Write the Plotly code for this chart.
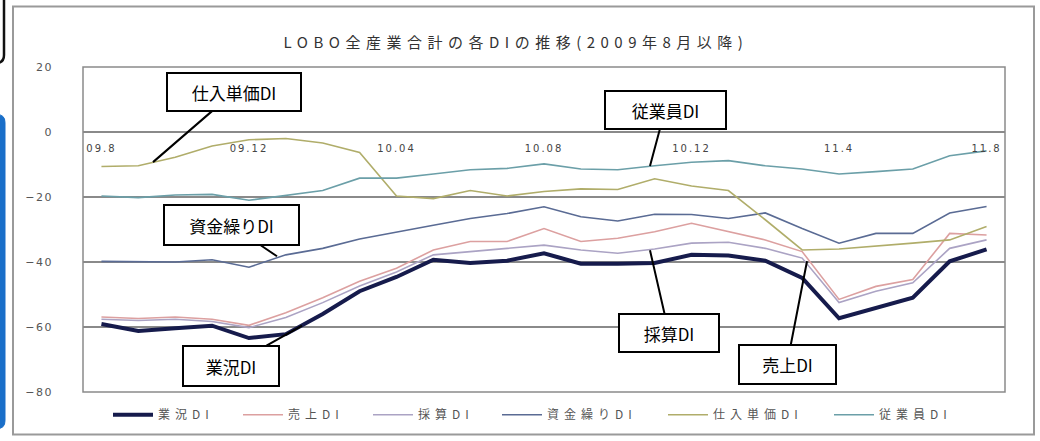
import plotly.graph_objects as go

# Monthly survey points, Aug 2009 - Aug 2011
months = ["09.8", "09.9", "09.10", "09.11", "09.12", "10.01", "10.02", "10.03", "10.04",
          "10.05", "10.06", "10.07", "10.08", "10.09", "10.10", "10.11", "10.12",
          "11.1", "11.2", "11.3", "11.4", "11.5", "11.6", "11.7", "11.8"]
tick_labels = ["09.8", "09.12", "10.04", "10.08", "10.12", "11.4", "11.8"]

gyokyo = [-59.1, -61.2, -60.4, -59.6, -63.4, -62.2, -56.0, -49.0, -44.6, -39.3, -40.3, -39.6, -37.3,
          -40.5, -40.5, -40.3, -37.8, -38.0, -39.6, -44.9, -57.3, -54.1, -51.0, -39.8, -36.1]
uriage = [-56.9, -57.4, -56.9, -57.6, -59.5, -55.6, -51.0, -45.9, -41.9, -36.3, -33.7, -33.7, -29.7,
          -33.7, -32.7, -30.7, -28.1, -30.7, -33.2, -36.8, -51.5, -47.5, -45.4, -31.2, -31.7]
saisan = [-57.6, -58.0, -57.6, -58.3, -60.2, -57.1, -52.5, -47.4, -43.1, -37.8, -36.8, -35.8, -34.8,
          -36.3, -37.3, -36.0, -34.2, -33.9, -35.8, -38.8, -52.5, -49.0, -46.4, -35.8, -33.2]
shikinguri = [-39.8, -40.0, -40.0, -39.3, -41.6, -37.8, -35.8, -32.9, -30.7, -28.7, -26.6, -25.1, -23.0,
              -26.1, -27.4, -25.3, -25.4, -26.6, -24.9, -29.7, -34.2, -31.2, -31.2, -24.9, -22.9]
shiire = [-10.6, -10.4, -7.8, -4.3, -2.4, -2.0, -3.4, -6.3, -19.7, -20.5, -18.0, -19.7, -18.3,
          -17.5, -17.7, -14.4, -16.6, -18.0, -27.0, -36.3, -36.0, -35.2, -34.2, -33.2, -29.1]
jugyoin = [-19.7, -20.2, -19.4, -19.2, -21.0, -19.4, -18.0, -14.2, -14.2, -12.9, -11.6, -11.2, -9.8,
           -11.4, -11.6, -10.4, -9.3, -8.8, -10.4, -11.4, -12.9, -12.2, -11.4, -7.3, -5.8]

# name, values, colour, width, legend block (short names / long names)
series = [
    ("業況DI", gyokyo, "#161b4c", 4, "legend"),
    ("売上DI", uriage, "#dca0a0", 1.6, "legend"),
    ("採算DI", saisan, "#aba3c4", 1.6, "legend"),
    ("資金繰りDI", shikinguri, "#5a6b94", 1.6, "legend2"),
    ("仕入単価DI", shiire, "#b0ad6a", 1.6, "legend2"),
    ("従業員DI", jugyoin, "#6b9fa8", 1.6, "legend2"),
]

W, H = 1040, 441
ML, MR, MT, MB = 83, 35, 67, 46
PW, PH = W - ML - MR, H - MT - MB


def px_x(px):
    return (px - ML) / PW


def px_y(py):
    return (H - MB - py) / PH


def rounded_rect(x0, y0, x1, y1, r):
    # rounded rectangle path in paper units from pixel corners
    rx, ry = r / PW, r / PH
    a0, a1 = px_x(x0), px_x(x1)
    b0, b1 = px_y(y1), px_y(y0)
    return (f"M{a0 + rx},{b0} L{a1 - rx},{b0} Q{a1},{b0} {a1},{b0 + ry} "
            f"L{a1},{b1 - ry} Q{a1},{b1} {a1 - rx},{b1} L{a0 + rx},{b1} "
            f"Q{a0},{b1} {a0},{b1 - ry} L{a0},{b0 + ry} Q{a0},{b0} {a0 + rx},{b0} Z")


fig = go.Figure()
x_idx = list(range(len(months)))
for name, vals, color, width, leg in series:
    fig.add_trace(go.Scatter(x=x_idx, y=vals, mode="lines", name=name, legend=leg,
                             line=dict(color=color, width=width)))

font_jp = "Noto Sans CJK JP, Noto Sans, sans-serif"
legend_font = dict(family=font_jp, size=12, color="#555555")

fig.update_layout(
    width=W, height=H,
    margin=dict(l=ML, r=MR, t=MT, b=MB),
    paper_bgcolor="white", plot_bgcolor="white",
    showlegend=True,
    title=dict(text="LOBO全産業合計の各DIの推移(2009年8月以降)", x=px_x(516), xref="paper",
               xanchor="center", y=1 - 43 / H, yanchor="middle",
               font=dict(family=font_jp, size=15, color="#333333")),
    legend=dict(orientation="h", x=px_x(108), xanchor="left", y=px_y(418), yanchor="middle",
                font=legend_font, bgcolor="rgba(0,0,0,0)", itemwidth=40,
                entrywidth=75, entrywidthmode="pixels"),
    legend2=dict(orientation="h", x=px_x(497), xanchor="left", y=px_y(418), yanchor="middle",
                 font=legend_font, bgcolor="rgba(0,0,0,0)", itemwidth=40,
                 entrywidth=111, entrywidthmode="pixels"),
    xaxis=dict(range=[-0.5, len(months) - 0.5], tickmode="array",
               tickvals=[months.index(t) for t in tick_labels],
               ticktext=tick_labels, showgrid=False, zeroline=False, showline=False,
               ticks="", anchor="free", position=0.8, ticklabelstandoff=9,
               tickfont=dict(family="DejaVu Sans, sans-serif", size=10, color="#444444")),
    yaxis=dict(range=[-80, 20], tickvals=[-80, -60, -40, -20, 0, 20], showgrid=True,
               gridcolor="#8a8a8a", gridwidth=1.5, zeroline=False, showline=False, ticks="",
               ticklabelstandoff=29,
               tickfont=dict(family="DejaVu Sans, sans-serif", size=11, color="#555555")),
)

shapes = [
    # chart area frame
    dict(type="rect", xref="paper", yref="paper", x0=px_x(13), x1=px_x(1034),
         y0=px_y(438), y1=px_y(6), line=dict(color="#9a9a9a", width=2), layer="below"),
    # plot area frame
    dict(type="rect", xref="paper", yref="paper", x0=0, x1=1, y0=0, y1=1,
         line=dict(color="#8a8a8a", width=1.5)),
    # neighbouring page elements at the left edge
    dict(type="path", xref="paper", yref="paper", path=rounded_rect(-40, -20, 4, 63, 8),
         line=dict(color="#111111", width=2.5), fillcolor="white"),
    dict(type="path", xref="paper", yref="paper", path=rounded_rect(-40, 115, 5, 432, 8),
         line=dict(color="#1a6fc9", width=1), fillcolor="#1a6fc9"),
]
fig.update_layout(shapes=shapes)

# callout boxes: (text, head px, box centre px, box width, box height)
callouts = [
    ("仕入単価DI", (153, 163), (234, 93), 136, 40),
    ("従業員DI", (650, 167), (665, 111), 123, 40),
    ("資金繰りDI", (277, 258), (231, 227), 137, 42),
    ("業況DI", (302, 328), (231, 368), 98, 42),
    ("採算DI", (650, 252), (669, 335), 102, 40),
    ("売上DI", (807, 263), (787, 366), 99, 41),
]
for text, (hx, hy), (cx, cy), bw, bh in callouts:
    fig.add_annotation(text=text, xref="paper", yref="paper", x=px_x(hx), y=px_y(hy),
                       ax=cx - hx, ay=cy - hy, showarrow=True, arrowhead=0, arrowwidth=2,
                       arrowcolor="black", standoff=0, startstandoff=0,
                       bordercolor="black", borderwidth=2, borderpad=0, bgcolor="white",
                       width=bw - 4, height=bh - 4,
                       font=dict(family=font_jp, size=17, color="black"))

# wide character spacing for the title, legend and tick labels
spacing_js = """
var st = document.createElement('style');
st.textContent = '.gtitle{letter-spacing:5.5px !important}' +
                 ' [class*="legend"] text{letter-spacing:5px !important}' +
                 ' .xtick text{letter-spacing:2px !important}' +
                 ' .ytick text{letter-spacing:1.5px !important}';
document.head.appendChild(st);
"""

fig.write_html("out.html", post_script=spacing_js)
